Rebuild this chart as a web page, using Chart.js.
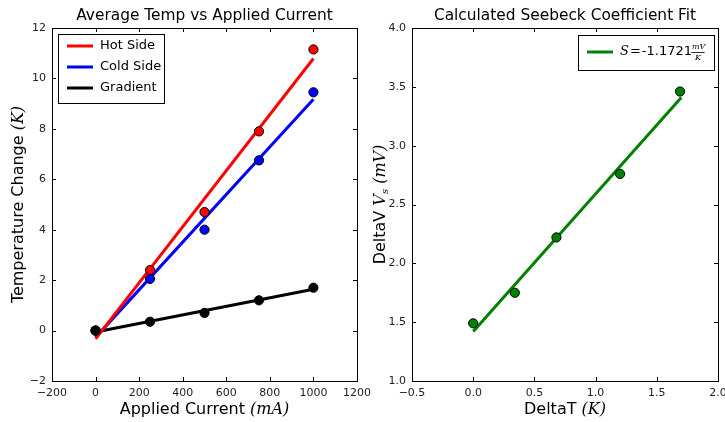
<!DOCTYPE html>
<html>
<head>
<meta charset="utf-8">
<script src="https://cdn.jsdelivr.net/npm/chart.js@4.4.1/dist/chart.umd.min.js"></script>
<style>
  body { margin: 0; background: #fff; }
  canvas { position: absolute; top: 0; }
  #tempChart { left: 0; }
  #seebeckChart { left: 362px; }
</style>
</head>
<body>
<canvas id="tempChart" width="380" height="422"></canvas>
<canvas id="seebeckChart" width="363" height="422"></canvas>
<script>
// left panel: temperature change vs applied current
const currentMA = [0, 250, 500, 750, 1000];
const hotSide = [0.0, 2.4, 4.7, 7.9, 11.15];
const coldSide = [0.0, 2.05, 4.0, 6.75, 9.45];
const gradientK = [0.0, 0.35, 0.7, 1.2, 1.7];
const fitCurrent = [0, 1000];
const hotFit = [-0.33, 10.79];
const coldFit = [-0.27, 9.17];
const gradientFit = [-0.06, 1.64];
const currentTicks = [-200, 0, 200, 400, 600, 800, 1000, 1200];
const tempTicks = [-2, 0, 2, 4, 6, 8, 10, 12];

// right panel: seebeck fit
const deltaT = [0.0, 0.34, 0.68, 1.2, 1.69];
const deltaV = [1.49, 1.75, 2.22, 2.76, 3.46];
const fitDeltaT = [0, 1.7];
const seebeckFit = [1.42, 3.41];
const deltaTTicks = [-0.5, 0.0, 0.5, 1.0, 1.5, 2.0];
const deltaVTicks = [1.0, 1.5, 2.0, 2.5, 3.0, 3.5, 4.0];

const SANS = '"DejaVu Sans", sans-serif';
const MATH = 'italic 16px "DejaVu Serif", serif';

const pts = (xs, ys) => xs.map((x, i) => ({ x: x, y: ys[i] }));
const minus = s => String(s).replace('-', '\u2212');

function dotSet(xs, ys, color, order) {
  return {
    data: pts(xs, ys), showLine: false, order: order,
    pointRadius: 4.6, pointHoverRadius: 4.6,
    pointBackgroundColor: color, pointBorderColor: '#000', pointBorderWidth: 1
  };
}
function lineSet(xs, ys, color) {
  return {
    data: pts(xs, ys), showLine: true, order: 5,
    borderColor: color, borderWidth: 3, pointRadius: 0
  };
}

function axis(min, max, tickVals, fmt, isX) {
  return {
    type: 'linear', min: min, max: max,
    afterBuildTicks: s => { s.ticks = tickVals.map(v => ({ value: v })); },
    afterFit: s => {
      if (isX) s.height = 41; else s.width = 50;
      s.paddingLeft = s.paddingRight = s.paddingTop = s.paddingBottom = 0;
    },
    grid: { display: false, drawTicks: false },
    border: { display: false },
    ticks: { color: '#222', padding: 6, font: { family: SANS, size: 11 }, callback: fmt }
  };
}

// draw a run of text pieces with different fonts, centred at (cx, cy)
function mixedText(ctx, parts, cx, cy, rot) {
  ctx.save();
  ctx.translate(cx, cy);
  if (rot) ctx.rotate(rot);
  let w = 0;
  parts.forEach(p => { ctx.font = p.font; p.w = ctx.measureText(p.text).width; w += p.w; });
  let x = -w / 2;
  ctx.fillStyle = '#000';
  ctx.textBaseline = 'middle';
  ctx.textAlign = 'left';
  parts.forEach(p => { ctx.font = p.font; ctx.fillText(p.text, x, p.dy || 0); x += p.w; });
  ctx.restore();
}

const framePlugin = {
  id: 'frame',
  afterDraw(chart) {
    const ctx = chart.ctx, a = chart.chartArea;
    const sx = chart.scales.x, sy = chart.scales.y;
    ctx.save();
    ctx.strokeStyle = '#000';
    ctx.lineWidth = 1;
    ctx.beginPath();
    sx.ticks.forEach(t => {
      const x = Math.round(sx.getPixelForValue(t.value)) + 0.5;
      ctx.moveTo(x, a.bottom); ctx.lineTo(x, a.bottom - 4);
      ctx.moveTo(x, a.top); ctx.lineTo(x, a.top + 4);
    });
    sy.ticks.forEach(t => {
      const y = Math.round(sy.getPixelForValue(t.value)) + 0.5;
      ctx.moveTo(a.left, y); ctx.lineTo(a.left + 4, y);
      ctx.moveTo(a.right, y); ctx.lineTo(a.right - 4, y);
    });
    ctx.stroke();
    ctx.strokeRect(Math.round(a.left) + 0.5, Math.round(a.top) + 0.5,
      Math.round(a.right - a.left), Math.round(a.bottom - a.top));
    ctx.restore();

    const o = chart.options.plugins.frame;
    const cx = (a.left + a.right) / 2;
    mixedText(ctx, [{ text: o.title, font: '15.4px ' + SANS }], cx, 16);
    mixedText(ctx, o.xLabel, cx, 410);
    mixedText(ctx, o.yLabel, 19, (a.top + a.bottom) / 2, -Math.PI / 2);

    // legend box inside the axes
    const L = o.legend;
    ctx.save();
    ctx.fillStyle = '#fff';
    ctx.fillRect(L.x, L.y, L.w, L.h);
    ctx.strokeStyle = '#000';
    ctx.lineWidth = 1;
    ctx.strokeRect(L.x + 0.5, L.y + 0.5, L.w, L.h);
    L.items.forEach((it, i) => {
      const y = L.y + L.first + i * L.step;
      ctx.strokeStyle = it.color;
      ctx.lineWidth = 3;
      ctx.beginPath();
      ctx.moveTo(L.x + 9, y); ctx.lineTo(L.x + 35, y);
      ctx.stroke();
      ctx.fillStyle = '#000';
      ctx.textBaseline = 'middle';
      let x = L.x + 42;
      it.parts.forEach(p => {
        ctx.font = p.font;
        ctx.fillText(p.text, x, y + (p.dy || 0));
        x += ctx.measureText(p.text).width + (p.gap || 0);
      });
    });
    ctx.restore();
  }
};

new Chart(document.getElementById('tempChart'), {
  type: 'scatter',
  data: {
    datasets: [
      lineSet(fitCurrent, hotFit, '#ff0000'),
      dotSet(currentMA, hotSide, '#ff0000', 3),
      lineSet(fitCurrent, coldFit, '#0000ff'),
      dotSet(currentMA, coldSide, '#0000ff', 2),
      lineSet(fitCurrent, gradientFit, '#000000'),
      dotSet(currentMA, gradientK, '#000000', 1)
    ]
  },
  options: {
    responsive: false, animation: false, devicePixelRatio: 1,
    layout: { padding: { top: 28, right: 23, left: 2, bottom: 0 } },
    plugins: {
      legend: { display: false }, tooltip: { enabled: false },
      frame: {
        title: 'Average Temp vs Applied Current',
        xLabel: [{ text: 'Applied Current ', font: '16px ' + SANS }, { text: '(mA)', font: MATH }],
        yLabel: [{ text: 'Temperature Change ', font: '16px ' + SANS }, { text: '(K)', font: MATH }],
        legend: {
          x: 58, y: 34, w: 106, h: 69, first: 12, step: 21,
          items: [
            { color: '#ff0000', parts: [{ text: 'Hot Side', font: '13px ' + SANS }] },
            { color: '#0000ff', parts: [{ text: 'Cold Side', font: '13px ' + SANS }] },
            { color: '#000000', parts: [{ text: 'Gradient', font: '13px ' + SANS }] }
          ]
        }
      }
    },
    scales: {
      x: axis(-200, 1200, currentTicks, v => minus(v), true),
      y: axis(-2, 12, tempTicks, v => minus(v), false)
    }
  },
  plugins: [framePlugin]
});

new Chart(document.getElementById('seebeckChart'), {
  type: 'scatter',
  data: {
    datasets: [
      lineSet(fitDeltaT, seebeckFit, '#008000'),
      dotSet(deltaT, deltaV, '#008000', 1)
    ]
  },
  options: {
    responsive: false, animation: false, devicePixelRatio: 1,
    layout: { padding: { top: 28, right: 7, left: 0, bottom: 0 } },
    plugins: {
      legend: { display: false }, tooltip: { enabled: false },
      frame: {
        title: 'Calculated Seebeck Coefficient Fit',
        xLabel: [{ text: 'DeltaT ', font: '16px ' + SANS }, { text: '(K)', font: MATH }],
        yLabel: [
          { text: 'DeltaV ', font: '16px ' + SANS },
          { text: 'V', font: MATH },
          { text: 's', font: 'italic 10px "DejaVu Serif", serif', dy: 4 },
          { text: ' (mV)', font: MATH }
        ],
        legend: {
          x: 216, y: 35, w: 136, h: 35, first: 17, step: 0,
          items: [
            { color: '#008000', parts: [
              { text: 'S', font: 'italic 13px "DejaVu Serif", serif', gap: 1 },
              { text: '=', font: '13px ' + SANS, gap: 1 },
              { text: '-1.1721', font: '13px ' + SANS },
              { text: 'mV', font: 'italic 8px "DejaVu Serif", serif', dy: -5 }
            ] }
          ]
        }
      }
    },
    scales: {
      x: axis(-0.5, 2.0, deltaTTicks, v => minus(v.toFixed(1)), true),
      y: axis(1.0, 4.0, deltaVTicks, v => v.toFixed(1), false)
    }
  },
  plugins: [framePlugin, {
    id: 'fracK',
    afterDraw(chart) {
      // denominator and bar of the mV/K fraction in the legend
      const ctx = chart.ctx;
      ctx.save();
      ctx.font = '13px ' + SANS;
      const base = 216 + 42 + ctx.measureText('S').width + 1 + ctx.measureText('=').width + 1 + ctx.measureText('-1.1721').width;
      ctx.font = 'italic 8px "DejaVu Serif", serif';
      const w = ctx.measureText('mV').width;
      ctx.fillStyle = '#000';
      ctx.fillRect(base, 52, w, 0.8);
      ctx.textBaseline = 'middle';
      ctx.textAlign = 'center';
      ctx.fillText('K', base + w / 2, 58);
      ctx.restore();
    }
  }]
});
</script>
</body>
</html>
